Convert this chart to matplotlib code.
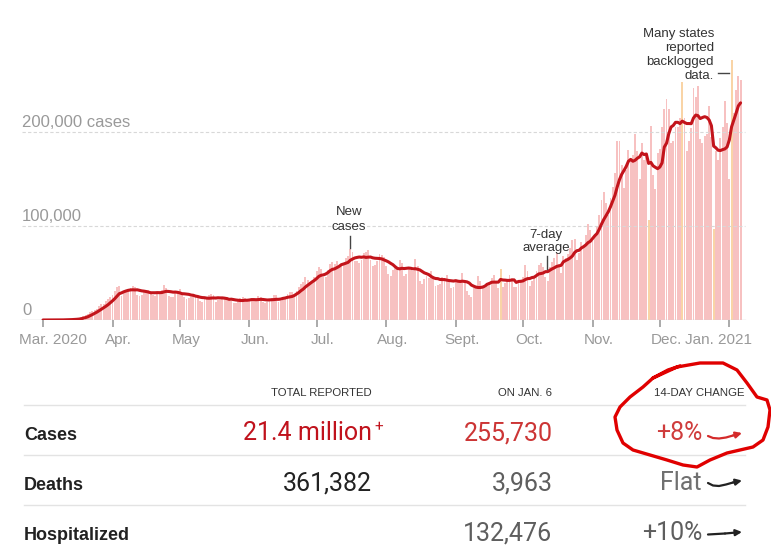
import numpy as np
import pandas as pd
import matplotlib
matplotlib.use("Agg")
import matplotlib.pyplot as plt

# ---------------------------------------------------------
# DATA  (daily new cases, thousands, Mar 1 2020 - Jan 6 2021)
# ---------------------------------------------------------
MAR = [0.01, 0.02, 0.02, 0.03, 0.06, 0.08, 0.1,
       0.15, 0.2, 0.3, 0.4, 0.5, 0.7, 0.8,
       1.0, 1.5, 1.9, 2.9, 4.6, 5.6, 6.4,
       9, 10, 11, 12, 15, 17, 17,
       20, 22, 25]
APR = [27, 31, 35, 36,
       26, 30, 31, 32, 34, 36, 35,
       27, 26, 27, 30, 31, 32, 30,
       27, 26, 28, 29.5, 32, 37, 34,
       26, 24, 25, 30, 30]
MAY = [33, 28,
       25, 22, 23, 25, 28, 27, 25,
       20, 19, 22, 22, 27, 28, 26.5,
       19, 21, 21, 22, 25, 25, 21,
       20, 18, 18, 20, 23, 25, 23,
       20]
JUN = [20, 21, 20, 22, 26, 25,
       19, 18, 19, 21, 23, 27, 27,
       19, 20, 24, 24, 28, 30, 30,
       26, 31, 35, 38, 40, 46, 43,
       40, 42, 46]
JUL = [52, 56, 54, 46,
       46, 53, 60, 62, 60, 63, 55,
       59, 58, 66, 68, 76, 72, 63,
       63, 61, 64, 71, 72, 74, 64,
       57, 58, 63, 70, 69, 67]
AUG = [57,
       49, 47, 53, 55, 56, 64, 61,
       47, 49, 55, 53, 52, 65, 57,
       42, 38, 44, 47, 45, 52, 47,
       36, 37, 38, 46, 45, 48, 44,
       34, 35]
SEP = [41, 42, 43, 50, 42,
       31, 27, 25, 34, 36, 47, 42,
       34, 34, 39, 40, 45, 48, 42,
       34, 54, 35, 39, 43, 48, 45,
       35, 35, 42, 40]
OCT = [46, 58, 52,
       36, 42, 45, 52, 58, 61, 56,
       46, 42, 56, 62, 66, 71, 60,
       50, 68, 66, 70, 77, 85, 86,
       64, 71, 83, 80, 90, 102, 96]
NOV = [84, 92, 100, 112, 128, 136, 125,
       112, 130, 142, 156, 190, 190, 165,
       140, 160, 181, 170, 176, 198, 180,
       150, 188, 170, 174, 106, 206, 154,
       139, 178]
DEC = [182, 205, 224, 235, 225,
       188, 190, 205, 205, 215, 253, 215,
       180, 190, 204, 247, 237, 249, 193,
       188, 196, 198, 228, 195, 97, 180,
       170, 194, 205, 233, 210]
JAN = [150, 277, 220, 245, 259.3, 255.73]

BACKLOG_DAYS = ["2020-09-21", "2020-11-26", "2020-12-11", "2020-12-25", "2021-01-02"]

MONTH_LABELS = ["Mar. 2020", "Apr.", "May", "Jun.", "Jul.", "Aug.",
                "Sept.", "Oct.", "Nov.", "Dec.", "Jan. 2021"]
Y_TICKS = [0, 100, 200]
Y_LABELS = ["0", "100,000", "200,000 cases"]

ROW_NAMES = ["Cases", "Deaths", "Hospitalized"]
COL_HEADERS = ["TOTAL REPORTED", "ON JAN. 6", "14-DAY CHANGE"]
TOTALS = ["21.4 million", "361,382", ""]
ON_DAY = ["255,730", "3,963", "132,476"]
CHANGE = ["+8%", "Flat", "+10%"]

# ---------------------------------------------------------
# STYLE
# ---------------------------------------------------------
W, H = 771, 560
BAR_COLOR = "#f7c1c1"
BACKLOG_COLOR = "#f9d4a6"
LINE_COLOR = "#c3141b"
AXIS_GRAY = "#999999"
SANS = ["Liberation Sans", "DejaVu Sans"]
NUM = ["Roboto", "DejaVu Sans"]

dates = pd.date_range("2020-03-01", "2021-01-06", freq="D")
daily = pd.Series(MAR + APR + MAY + JUN + JUL + AUG + SEP + OCT + NOV + DEC + JAN,
                  index=dates)
avg7 = daily.rolling(7, min_periods=1).mean()
idx = np.arange(len(daily))
colors = [BACKLOG_COLOR if d.strftime("%Y-%m-%d") in BACKLOG_DAYS else BAR_COLOR
          for d in dates]
month_starts = [i for i, d in enumerate(dates) if d.day == 1]

fig = plt.figure(figsize=(W / 100, H / 100), dpi=100)

# chart axes: pixel x 22..748, y 20..320
PX_PER_DAY = 2.243
PX_PER_K = 0.94
ax = fig.add_axes([22 / W, 240 / H, 726 / W, 300 / H])
ax.set_xlim(-21 / PX_PER_DAY, 705 / PX_PER_DAY)
ax.set_ylim(0, 300 / PX_PER_K)
for s in ax.spines.values():
    s.set_visible(False)
ax.set_yticks([])

ax.bar(idx, daily.values, width=0.84, color=colors, linewidth=0, zorder=1)

x0, x1 = ax.get_xlim()
for v in Y_TICKS[1:]:
    ax.plot([x0, 702 / PX_PER_DAY], [v, v], color="#d8d8d8", lw=0.8,
            ls=(0, (3, 2)), zorder=2)
ax.plot([x0, 702 / PX_PER_DAY], [0, 0], color="#d5d5d5", lw=1.0, zorder=2)

for v, lab in zip(Y_TICKS, Y_LABELS):
    ax.text(x0, v + 2.5, lab, ha="left", va="bottom", fontsize=12,
            color=AXIS_GRAY, family=SANS, zorder=3)

ax.plot(idx, avg7.values, color=LINE_COLOR, lw=2.2, zorder=4,
        solid_capstyle="round", solid_joinstyle="round")

# month ticks and labels
ax.set_xticks(month_starts)
ax.set_xticklabels([])
ax.tick_params(axis="x", length=5, width=1.4, color="#aaaaaa", pad=0)
xt = ax.get_xaxis_transform()
for k, (pos, lab) in enumerate(zip(month_starts, MONTH_LABELS)):
    if k == 0:
        ax.text(pos + 4.5, -20 / 300, lab, transform=xt, ha="center", va="center",
                fontsize=11, color=AXIS_GRAY, family=SANS)
    elif k == len(MONTH_LABELS) - 1:
        ax.text(709 / PX_PER_DAY, -20 / 300, lab, transform=xt, ha="right",
                va="center", fontsize=11, color=AXIS_GRAY, family=SANS)
    else:
        ax.text(pos + 2.7, -20 / 300, lab, transform=xt, ha="center", va="center",
                fontsize=11, color=AXIS_GRAY, family=SANS)

# annotations
def py(ypx):
    return (320 - ypx) / PX_PER_K

def pdx(xpx):
    return (xpx - 43) / PX_PER_DAY

ann = dict(fontsize=9.5, color="#333333", family=SANS, zorder=5)
ax.text(pdx(349), py(212), "New", ha="center", va="center", **ann)
ax.text(pdx(349), py(226.5), "cases", ha="center", va="center", **ann)
ax.plot([pdx(350), pdx(350)], [py(236), py(248)], color="#444444", lw=1, zorder=5)

ax.text(pdx(546), py(235), "7-day", ha="center", va="center", **ann)
ax.text(pdx(546), py(248.5), "average", ha="center", va="center", **ann)
ax.plot([pdx(546.5), pdx(546.5)], [py(256), py(269)], color="#444444", lw=1, zorder=5)

for k, line in enumerate(["Many states", "reported", "backlogged", "data."]):
    ax.text(pdx(714), py(33.5 + 14.3 * k), line, ha="right", va="center", **ann)
ax.plot([pdx(718), pdx(729)], [py(73), py(73)], color="#444444", lw=1, zorder=5)

# ---------------------------------------------------------
# TABLE + DECORATIONS (pixel overlay)
# ---------------------------------------------------------
ov = fig.add_axes([0, 0, 1, 1])
ov.set_xlim(0, W)
ov.set_ylim(H, 0)
ov.axis("off")
ov.patch.set_visible(False)

col_right = [372, 552.5, 745]
for x, lab in zip(col_right, COL_HEADERS):
    ov.text(x, 393.5, lab, ha="right", va="center", fontsize=8.2,
            color="#333333", family=SANS)

for ypx in [405, 455, 505]:
    ov.plot([24, 745], [ypx, ypx], color="#e3e3e3", lw=1)

row_y = [435, 485, 535]
total_colors = ["#c0121c", "#222222", "#222222"]
day_colors = ["#cc3535", "#5e5e5e", "#5e5e5e"]
chg_colors = ["#cf3c3c", "#707070", "#5e5e5e"]
for r, name in enumerate(ROW_NAMES):
    y = row_y[r]
    ov.text(24, y, name, ha="left", va="center", fontsize=13, fontweight="bold",
            color="#222222", family=SANS)
    if TOTALS[r]:
        ov.text(372, y - 2, TOTALS[r], ha="right", va="center", fontsize=18,
                color=total_colors[r], family=NUM)
    ov.text(552.5, y - 2, ON_DAY[r], ha="right", va="center", fontsize=18,
            color=day_colors[r], family=NUM)
    ov.text(702, y - 2, CHANGE[r], ha="right", va="center", fontsize=18,
            color=chg_colors[r], family=NUM)
ov.text(374, 427, "+", ha="left", va="center", fontsize=11, color=total_colors[0],
        family=NUM)

# trend arrows
def arrow(xs, ys, color):
    ov.plot(xs[:-1], ys[:-1], color=color, lw=1.6, solid_capstyle="round")
    ov.annotate("", xy=(xs[-1], ys[-1]), xytext=(xs[-2], ys[-2]),
                arrowprops=dict(arrowstyle="-|>", color=color, lw=1.6,
                                mutation_scale=9, shrinkA=0, shrinkB=0))

arrow([708, 713, 719, 726, 733, 742], [436, 438, 438.5, 437.5, 435.5, 433], "#d42a2a")
arrow([708, 713, 719, 726, 733, 742], [483, 485.5, 486, 484.5, 482.5, 480.5], "#222222")
arrow([708, 725, 742], [534.5, 533.5, 532], "#222222")

# hand-drawn red loop around the 14-day change
loop_x = [653, 677, 700, 723, 737, 747, 757, 767, 770, 768, 763, 753, 740, 727,
          710, 697, 683, 667, 650, 633, 623, 617, 615, 620, 630, 643, 653, 668, 680]
loop_y = [378, 367, 363, 363, 370, 383, 397, 400, 410, 427, 440, 447, 450, 453,
          460, 467, 465, 460, 455, 450, 443, 430, 417, 407, 397, 387, 378, 370, 366]
ov.plot(loop_x, loop_y, color="#e00000", lw=2.4, solid_joinstyle="round",
        solid_capstyle="round")

fig.savefig("out.png", dpi=100)
